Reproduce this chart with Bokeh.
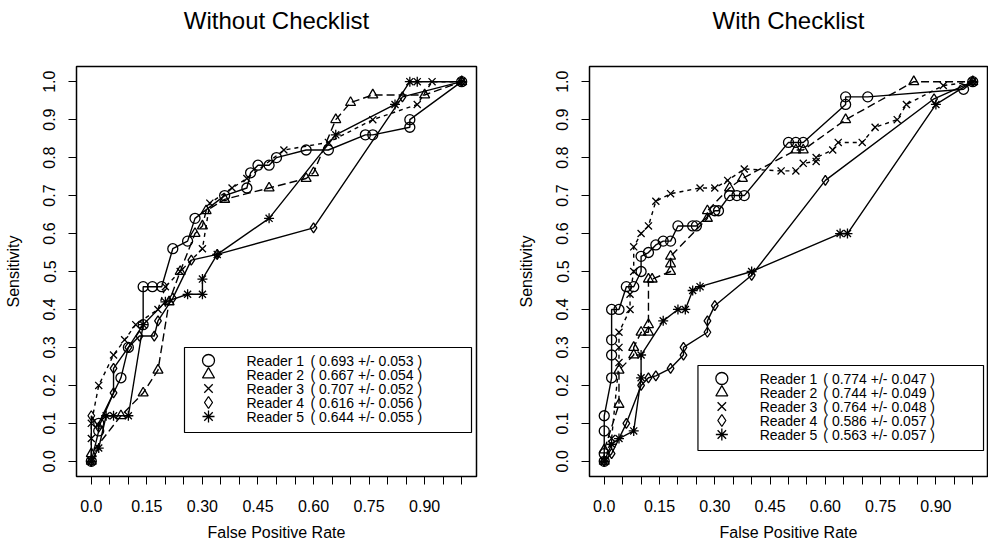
from bokeh.plotting import figure
from bokeh.layouts import row
from bokeh.models import FixedTicker, Range1d, PrintfTickFormatter, Title
from bokeh.core.properties import value
from bokeh.embed import file_html
from bokeh.resources import INLINE

FONT = "Liberation Sans"

readers = ["Reader 1", "Reader 2", "Reader 3", "Reader 4", "Reader 5"]
markers = ["circle", "triangle", "x", "diamond", "asterisk"]
dashes = ["solid", "8 4", "4 4", "solid", "solid"]

auc_without = ["0.693 +/- 0.053", "0.667 +/- 0.054", "0.707 +/- 0.052", "0.616 +/- 0.056", "0.644 +/- 0.055"]
auc_with = ["0.774 +/- 0.047", "0.744 +/- 0.049", "0.764 +/- 0.048", "0.586 +/- 0.057", "0.563 +/- 0.057"]

# ---- Without Checklist (false positive rate, sensitivity) ----
wo_r1_x = [0.0, 0.02, 0.02, 0.08, 0.10, 0.14, 0.14, 0.165, 0.19, 0.22, 0.26, 0.28, 0.36, 0.42, 0.43, 0.45, 0.48, 0.50, 0.58, 0.64, 0.74, 0.76, 0.86, 0.86, 1.0]
wo_r1_y = [0.0, 0.08, 0.10, 0.22, 0.30, 0.36, 0.46, 0.46, 0.46, 0.56, 0.58, 0.64, 0.70, 0.72, 0.76, 0.78, 0.78, 0.80, 0.82, 0.82, 0.86, 0.86, 0.88, 0.90, 1.0]
wo_r2_x = [0.0, 0.0, 0.08, 0.14, 0.18, 0.21, 0.24, 0.28, 0.30, 0.31, 0.36, 0.48, 0.58, 0.60, 0.66, 0.70, 0.76, 0.90, 1.0]
wo_r2_y = [0.0, 0.02, 0.12, 0.18, 0.24, 0.42, 0.50, 0.60, 0.62, 0.66, 0.69, 0.72, 0.745, 0.76, 0.90, 0.945, 0.965, 0.965, 1.0]
wo_r3_x = [0.0, 0.0, 0.0, 0.02, 0.06, 0.09, 0.12, 0.18, 0.20, 0.24, 0.30, 0.32, 0.38, 0.42, 0.52, 0.64, 0.76, 0.88, 0.92, 1.0]
wo_r3_y = [0.0, 0.06, 0.10, 0.20, 0.28, 0.32, 0.36, 0.40, 0.46, 0.50, 0.56, 0.68, 0.72, 0.745, 0.82, 0.84, 0.90, 0.94, 1.0, 1.0]
wo_r4_x = [0.0, 0.0, 0.02, 0.06, 0.06, 0.10, 0.13, 0.17, 0.18, 0.22, 0.27, 0.34, 0.60, 0.84, 1.0]
wo_r4_y = [0.0, 0.12, 0.09, 0.18, 0.245, 0.30, 0.33, 0.33, 0.37, 0.43, 0.53, 0.545, 0.615, 0.96, 1.0]
wo_r5_x = [0.0, 0.02, 0.04, 0.06, 0.10, 0.14, 0.20, 0.26, 0.30, 0.30, 0.34, 0.48, 0.66, 0.82, 0.86, 0.88, 1.0]
wo_r5_y = [0.0, 0.035, 0.12, 0.12, 0.12, 0.36, 0.42, 0.44, 0.44, 0.48, 0.545, 0.64, 0.86, 0.94, 1.0, 1.0, 1.0]

# ---- With Checklist ----
wi_r1_x = [0.0, 0.0, 0.0, 0.0, 0.02, 0.02, 0.02, 0.02, 0.04, 0.06, 0.08, 0.10, 0.10, 0.12, 0.14, 0.16, 0.18, 0.20, 0.24, 0.25, 0.30, 0.31, 0.34, 0.36, 0.38, 0.50, 0.52, 0.54, 0.655, 0.655, 0.715, 0.975, 1.0]
wi_r1_y = [0.0, 0.02, 0.08, 0.12, 0.22, 0.28, 0.32, 0.40, 0.40, 0.46, 0.46, 0.50, 0.54, 0.55, 0.57, 0.58, 0.58, 0.62, 0.62, 0.62, 0.66, 0.66, 0.70, 0.70, 0.70, 0.84, 0.84, 0.84, 0.94, 0.96, 0.96, 0.98, 1.0]
wi_r2_x = [0.0, 0.0, 0.04, 0.04, 0.08, 0.08, 0.10, 0.12, 0.12, 0.12, 0.13, 0.18, 0.18, 0.18, 0.28, 0.28, 0.34, 0.375, 0.52, 0.54, 0.655, 0.84, 1.0]
wi_r2_y = [0.0, 0.03, 0.15, 0.24, 0.28, 0.30, 0.34, 0.34, 0.36, 0.48, 0.48, 0.50, 0.52, 0.54, 0.64, 0.66, 0.72, 0.745, 0.82, 0.82, 0.90, 1.0, 1.0]
wi_r3_x = [0.0, 0.02, 0.04, 0.04, 0.04, 0.07, 0.07, 0.08, 0.08, 0.10, 0.12, 0.14, 0.18, 0.26, 0.30, 0.335, 0.38, 0.48, 0.52, 0.54, 0.575, 0.575, 0.62, 0.635, 0.70, 0.735, 0.795, 0.82, 0.92, 1.0]
wi_r3_y = [0.0, 0.06, 0.26, 0.30, 0.34, 0.40, 0.44, 0.50, 0.565, 0.60, 0.62, 0.685, 0.705, 0.72, 0.72, 0.74, 0.77, 0.765, 0.765, 0.785, 0.79, 0.80, 0.82, 0.84, 0.84, 0.88, 0.90, 0.94, 0.99, 1.0]
wi_r4_x = [0.0, 0.02, 0.06, 0.10, 0.12, 0.14, 0.18, 0.215, 0.215, 0.28, 0.28, 0.30, 0.40, 0.60, 0.895, 1.0]
wi_r4_y = [0.0, 0.02, 0.10, 0.20, 0.22, 0.225, 0.245, 0.28, 0.30, 0.34, 0.37, 0.41, 0.49, 0.74, 0.955, 1.0]
wi_r5_x = [0.0, 0.02, 0.04, 0.08, 0.10, 0.10, 0.16, 0.20, 0.22, 0.24, 0.26, 0.40, 0.64, 0.66, 0.90, 1.0]
wi_r5_y = [0.0, 0.045, 0.06, 0.08, 0.22, 0.28, 0.37, 0.40, 0.40, 0.45, 0.46, 0.50, 0.60, 0.60, 0.94, 1.0]

without_data = [(wo_r1_x, wo_r1_y), (wo_r2_x, wo_r2_y), (wo_r3_x, wo_r3_y), (wo_r4_x, wo_r4_y), (wo_r5_x, wo_r5_y)]
with_data = [(wi_r1_x, wi_r1_y), (wi_r2_x, wi_r2_y), (wi_r3_x, wi_r3_y), (wi_r4_x, wi_r4_y), (wi_r5_x, wi_r5_y)]

x_ticks = [0.0, 0.05, 0.1, 0.15, 0.2, 0.25, 0.3, 0.35, 0.4, 0.45, 0.5, 0.55, 0.6, 0.65, 0.7, 0.75, 0.8, 0.85, 0.9, 0.95, 1.0]
x_label_ticks = [0.0, 0.15, 0.3, 0.45, 0.6, 0.75, 0.9]
x_label_text = ["0.0", "0.15", "0.30", "0.45", "0.60", "0.75", "0.90"]
y_ticks = [0.0, 0.1, 0.2, 0.3, 0.4, 0.5, 0.6, 0.7, 0.8, 0.9, 1.0]

FRAME_W = 400
FRAME_H = 410


def make_panel(title, data, aucs, legend_box, width, border_left, border_right):
    p = figure(width=width, height=544, output_backend="svg", toolbar_location=None,
               x_range=Range1d(-0.04, 1.04), y_range=Range1d(-0.04, 1.04),
               min_border_left=border_left, min_border_right=border_right,
               min_border_top=66, min_border_bottom=68, title=None)
    p.background_fill_color = "white"
    p.border_fill_color = "white"
    p.outline_line_color = "black"
    p.outline_line_width = 1.5
    p.xgrid.grid_line_color = None
    p.ygrid.grid_line_color = None

    # pixel-based helper ranges for the legend box
    p.extra_x_ranges = {"px": Range1d(0, FRAME_W)}
    p.extra_y_ranges = {"px": Range1d(0, FRAME_H)}

    overrides = {}
    for t in x_ticks:
        overrides[t] = ""
    for t, s in zip(x_label_ticks, x_label_text):
        overrides[t] = s
    p.xaxis.ticker = FixedTicker(ticks=x_ticks)
    p.xaxis.major_label_overrides = overrides
    p.yaxis.ticker = FixedTicker(ticks=y_ticks)
    p.yaxis.formatter = PrintfTickFormatter(format="%.1f")
    p.yaxis.major_label_orientation = "vertical"

    for ax in (p.xaxis, p.yaxis):
        ax.axis_line_color = None
        ax.major_tick_in = 0
        ax.major_tick_out = 8
        ax.minor_tick_line_color = None
        ax.major_tick_line_color = "black"
        ax.major_tick_line_width = 1
        ax.major_label_text_font = FONT
        ax.major_label_text_font_size = "16px"
        ax.major_label_text_color = "black"
        ax.axis_label_text_font = FONT
        ax.axis_label_text_font_size = "16px"
        ax.axis_label_text_font_style = "normal"
        ax.axis_label_text_color = "black"
    p.xaxis.axis_label = "False Positive Rate"
    p.yaxis.axis_label = "Sensitivity"
    p.xaxis.major_label_standoff = 15
    p.xaxis.axis_label_standoff = 9
    p.yaxis.major_label_standoff = 13
    p.yaxis.axis_label_standoff = 19

    for (xs, ys), mk, dash in zip(data, markers, dashes):
        p.line(xs, ys, line_color="black", line_width=1.4, line_dash=dash)
        p.scatter(xs, ys, marker=mk, size=10, line_color="black", line_width=1.3,
                  fill_color=None)

    # legend box (pixel coordinates inside the frame)
    bl, bt = legend_box
    bw, bh = 287, 85
    p.quad(left=[bl], right=[bl + bw], top=[FRAME_H - bt], bottom=[FRAME_H - bt - bh],
           x_range_name="px", y_range_name="px",
           fill_color="white", line_color="black", line_width=1.2)
    row_y = [FRAME_H - bt - 13 - 14 * i for i in range(len(readers))]
    for i, mk in enumerate(markers):
        p.scatter([bl + 24], [row_y[i]], marker=mk, size=12, line_color="black",
                  line_width=1.3, fill_color=None, x_range_name="px", y_range_name="px")
    p.text(x=[bl + 62] * len(readers), y=row_y, text=readers,
           x_range_name="px", y_range_name="px",
           text_font=value(FONT), text_font_size="14px", text_color="black",
           text_baseline="middle", text_align="left")
    p.text(x=[bl + 126] * len(readers), y=row_y, text=["( " + a + " )" for a in aucs],
           x_range_name="px", y_range_name="px",
           text_font=value(FONT), text_font_size="14px", text_color="black",
           text_baseline="middle", text_align="left")

    # spacer keeps the title well above the frame, as in the original
    spacer = Title(text="\u00a0", text_font=FONT, text_font_size="20px", standoff=8)
    p.add_layout(spacer, "above")
    t = Title(text=title, align="center", text_font=FONT, text_font_size="24px",
              text_font_style="normal", text_color="black", standoff=2)
    p.add_layout(t, "above")
    return p


p1 = make_panel("Without Checklist", without_data, auc_without, (108, 281), 514, 76, 38)
p2 = make_panel("With Checklist", with_data, auc_with, (109, 299), 474, 73, 1)

layout = row(p1, p2)
open("out.html", "w").write(file_html(layout, INLINE))
